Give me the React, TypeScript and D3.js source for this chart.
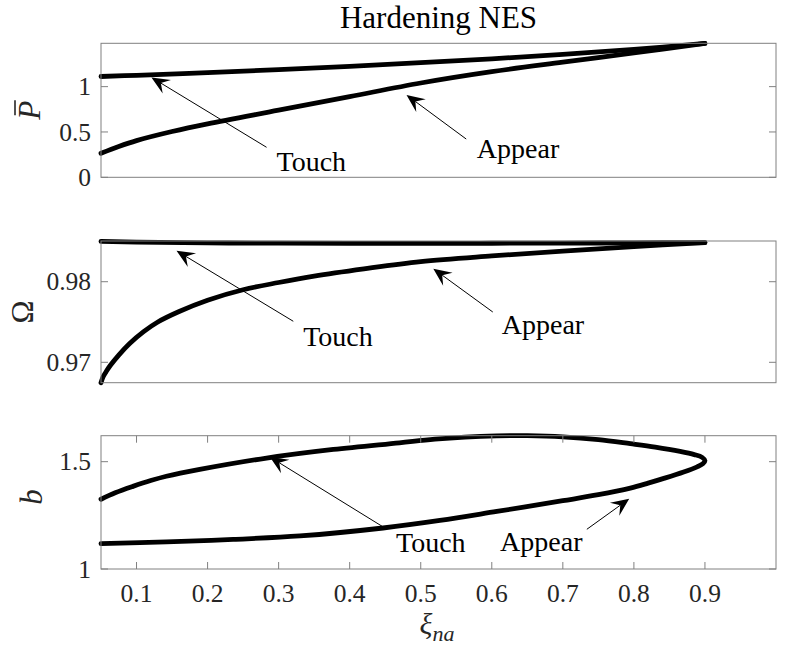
import React from "react";
import * as d3 from "d3";

// ---------- data ----------
const xiTicks = [0.1, 0.2, 0.3, 0.4, 0.5, 0.6, 0.7, 0.8, 0.9];
const pTicks = [0, 0.5, 1];
const omTicks = [0.97, 0.98];
const bTicks = [1, 1.5];

// P-bar: "Touch" branch and "Appear" branch
const xiPTouch = [0.05, 0.1, 0.2, 0.3, 0.4, 0.5, 0.6, 0.7, 0.8, 0.9];
const pTouch = [1.112, 1.125, 1.155, 1.188, 1.224, 1.264, 1.307, 1.355, 1.41, 1.476];
const xiPAppear = [0.05, 0.075, 0.1, 0.15, 0.2, 0.3, 0.4, 0.5, 0.6, 0.7, 0.8, 0.9];
const pAppear = [0.265, 0.34, 0.405, 0.505, 0.59, 0.74, 0.89, 1.04, 1.165, 1.27, 1.372, 1.476];

// Omega
const xiOmTouch = [0.05, 0.1, 0.2, 0.3, 0.4, 0.5, 0.6, 0.7, 0.8, 0.9];
const omTouch = [0.985, 0.9849, 0.98482, 0.98478, 0.98476, 0.98476, 0.98477, 0.98479, 0.98482, 0.98486];
const xiOmAppear = [0.05, 0.053, 0.057, 0.063, 0.075, 0.09, 0.11, 0.13, 0.16, 0.2, 0.25, 0.3, 0.35, 0.42, 0.5, 0.6, 0.7, 0.8, 0.9];
const omAppear = [0.96747, 0.9682, 0.9688, 0.9696, 0.9709, 0.9723, 0.9738, 0.975, 0.9763, 0.9777, 0.979, 0.9799, 0.9807, 0.9816, 0.9825, 0.9832, 0.9838, 0.98435, 0.98485];

// b : closed loop, upper (Touch) branch then lower (Appear) branch
const xiB = [0.05, 0.07, 0.095, 0.12, 0.142, 0.189, 0.283, 0.377, 0.47, 0.52, 0.607, 0.65, 0.7, 0.75, 0.795, 0.83, 0.865, 0.885, 0.896, 0.9, 0.897, 0.889, 0.87, 0.841, 0.82, 0.795, 0.75, 0.7, 0.607, 0.527, 0.447, 0.33, 0.236, 0.142, 0.05];
const bVals = [1.325, 1.355, 1.385, 1.412, 1.432, 1.464, 1.517, 1.557, 1.588, 1.605, 1.62, 1.621, 1.616, 1.603, 1.584, 1.568, 1.548, 1.533, 1.52, 1.505, 1.49, 1.476, 1.452, 1.421, 1.4, 1.377, 1.346, 1.318, 1.268, 1.226, 1.191, 1.154, 1.138, 1.126, 1.118];

// annotations (data coordinates)
const annP = [
  { label: "Touch", tail: [0.283, 0.331], tip: [0.121, 1.102], text: [0.297, 0.069] },
  { label: "Appear", tail: [0.564, 0.422], tip: [0.48, 0.908], text: [0.579, 0.21] },
];
const annOm = [
  { label: "Touch", tail: [0.3206, 0.97509], tip: [0.1563, 0.98384], text: [0.3346, 0.97203] },
  { label: "Appear", tail: [0.6014, 0.97624], tip: [0.5177, 0.98161], text: [0.614, 0.97352] },
];
const annB = [
  { label: "Touch", tail: [0.4473, 1.1956], tip: [0.2877, 1.5217], text: [0.4652, 1.079] },
  { label: "Appear", tail: [0.7338, 1.185], tip: [0.7934, 1.327], text: [0.6117, 1.084] },
];

// ---------- layout ----------
const W = 794;
const H = 651;
const LEFT = 101;
const RIGHT = 776;
const FONT = "Liberation Serif";
const AX = "#808080";
const TXT = "#262626";
const TICK = 7;

const x = d3.scaleLinear().domain([0.05, 1.0]).range([LEFT, RIGHT]);

type Ann = { label: string; tail: number[]; tip: number[]; text: number[] };

function Arrow({ a, y }: { a: Ann; y: d3.ScaleLinear<number, number> }) {
  const x1 = x(a.tail[0]);
  const y1 = y(a.tail[1]);
  const x2 = x(a.tip[0]);
  const y2 = y(a.tip[1]);
  const ang = Math.atan2(y2 - y1, x2 - x1);
  const L = 18;
  const hw = 8;
  const notch = 11;
  const c = Math.cos(ang);
  const s = Math.sin(ang);
  const pt = (u: number, v: number) => [x2 + u * c - v * s, y2 + u * s + v * c];
  const p1 = pt(-L, hw);
  const p2 = pt(-notch, 0);
  const p3 = pt(-L, -hw);
  return (
    <g>
      <line x1={x1} y1={y1} x2={p2[0]} y2={p2[1]} stroke="#000" strokeWidth={1} />
      <polygon points={`${x2},${y2} ${p1[0]},${p1[1]} ${p2[0]},${p2[1]} ${p3[0]},${p3[1]}`} fill="#000" />
      <text x={x(a.text[0])} y={y(a.text[1])} fontFamily={FONT} fontSize={28} fill="#000">
        {a.label}
      </text>
    </g>
  );
}

function Panel({
  top,
  bottom,
  domain,
  yTicks,
  showX,
  children,
}: {
  top: number;
  bottom: number;
  domain: number[];
  yTicks: number[];
  showX: boolean;
  children: (y: d3.ScaleLinear<number, number>) => React.ReactNode;
}) {
  const y = d3.scaleLinear().domain(domain).range([bottom, top]);
  return (
    <g>
      {children(y)}
      <rect x={LEFT} y={top} width={RIGHT - LEFT} height={bottom - top} fill="none" stroke={AX} strokeWidth={1} />
      {yTicks.map((t) => (
        <g key={"y" + t}>
          <line x1={LEFT} x2={LEFT + TICK} y1={y(t)} y2={y(t)} stroke={AX} />
          <line x1={RIGHT} x2={RIGHT - TICK} y1={y(t)} y2={y(t)} stroke={AX} />
          <text x={91} y={y(t)} dy="0.34em" textAnchor="end" fontFamily={FONT} fontSize={25.5} fill={TXT}>
            {String(t)}
          </text>
        </g>
      ))}
      {showX &&
        xiTicks.map((t) => (
          <g key={"x" + t}>
            <line x1={x(t)} x2={x(t)} y1={bottom} y2={bottom - TICK} stroke={AX} />
            <line x1={x(t)} x2={x(t)} y1={top} y2={top + TICK} stroke={AX} />
            <text x={x(t)} y={bottom + 33} textAnchor="middle" fontFamily={FONT} fontSize={25.5} fill={TXT}>
              {String(t)}
            </text>
          </g>
        ))}
    </g>
  );
}

function makeLine(xs: number[], ys: number[], y: d3.ScaleLinear<number, number>) {
  const pts: [number, number][] = xs.map((v, i) => [v, ys[i]]);
  return d3
    .line<[number, number]>()
    .x((d) => x(d[0]))
    .y((d) => y(d[1]))
    .curve(d3.curveCatmullRom.alpha(0.5))(pts) as string;
}

const curveStyle = {
  fill: "none",
  stroke: "#000",
  strokeWidth: 4.8,
  strokeLinecap: "round" as const,
  strokeLinejoin: "round" as const,
};

export default function App() {
  return (
    <svg width={W} height={H} style={{ position: "absolute", left: 0, top: 0, background: "#fff" }}>
      <rect x={0} y={0} width={W} height={H} fill="#fff" />
      <text x={(LEFT + RIGHT) / 2} y={28} textAnchor="middle" fontFamily={FONT} fontSize={31} fill="#000">
        Hardening NES
      </text>

      <Panel top={43.3} bottom={177.3} domain={[0, 1.478]} yTicks={pTicks} showX={false}>
        {(y) => (
          <g>
            <path d={makeLine(xiPTouch, pTouch, y)} {...curveStyle} />
            <path d={makeLine(xiPAppear, pAppear, y)} {...curveStyle} />
            {annP.map((a) => (
              <Arrow key={a.label} a={a} y={y} />
            ))}
          </g>
        )}
      </Panel>

      <Panel top={241} bottom={382.7} domain={[0.96747, 0.98505]} yTicks={omTicks} showX={false}>
        {(y) => (
          <g>
            <path d={makeLine(xiOmTouch, omTouch, y)} {...curveStyle} />
            <path d={makeLine(xiOmAppear, omAppear, y)} {...curveStyle} />
            {annOm.map((a) => (
              <Arrow key={a.label} a={a} y={y} />
            ))}
          </g>
        )}
      </Panel>

      <Panel top={435.7} bottom={569} domain={[1, 1.621]} yTicks={bTicks} showX={true}>
        {(y) => (
          <g>
            <path d={makeLine(xiB, bVals, y)} {...curveStyle} />
            {annB.map((a) => (
              <Arrow key={a.label} a={a} y={y} />
            ))}
          </g>
        )}
      </Panel>

      {/* y labels */}
      <g transform="translate(40,110.3) rotate(-90)">
        <text x={0} y={0} textAnchor="middle" fontFamily={FONT} fontStyle="italic" fontSize={31} fill={TXT}>
          P
        </text>
        <line x1={-5} x2={10} y1={-25} y2={-25} stroke={TXT} strokeWidth={1.6} />
      </g>
      <g transform="translate(33,312) rotate(-90)">
        <text x={0} y={0} textAnchor="middle" fontFamily={FONT} fontSize={31} fill={TXT}>
          Ω
        </text>
      </g>
      <g transform="translate(42,497) rotate(-90)">
        <text x={0} y={0} textAnchor="middle" fontFamily={FONT} fontStyle="italic" fontSize={31} fill={TXT}>
          b
        </text>
      </g>

      {/* x label */}
      <text x={437} y={634} textAnchor="middle" fontFamily={FONT} fontStyle="italic" fontSize={30} fill={TXT}>
        ξ
        <tspan fontSize={22} dy={7}>
          na
        </tspan>
      </text>
    </svg>
  );
}
